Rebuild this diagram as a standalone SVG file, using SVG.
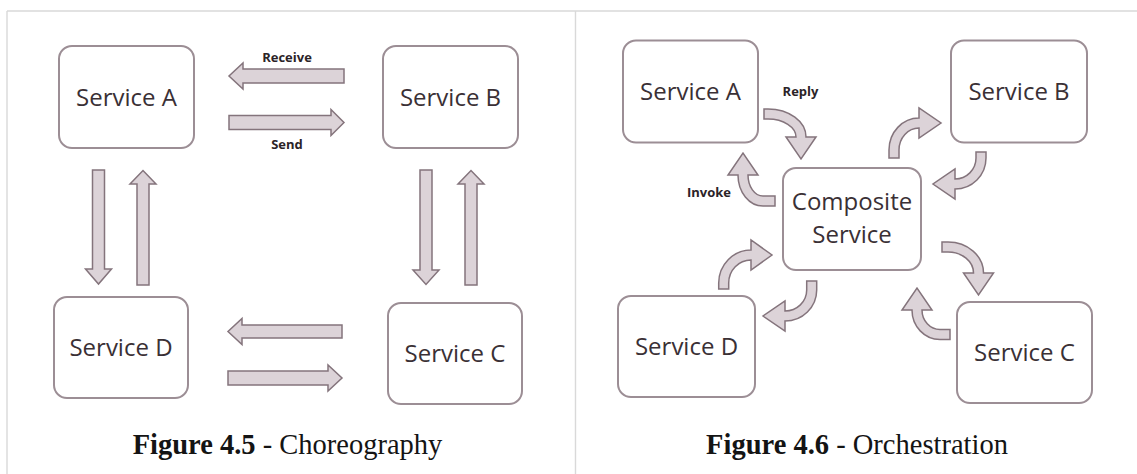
<svg xmlns="http://www.w3.org/2000/svg" width="1137" height="474" viewBox="0 0 1137 474">
  <defs>
    <style>
      .frame { stroke: #d9d9d9; stroke-width: 1.4; fill: none; }
      .box { fill: #ffffff; stroke: #9c8e95; stroke-width: 2; }
      .arrow { fill: #dcd3d8; stroke: #84747c; stroke-width: 1.5; stroke-linejoin: miter; }
      .name { font-family: "Open Sans", "Liberation Sans", sans-serif; font-size: 24px; fill: #3a3035; text-anchor: middle; }
      .lbl { font-family: "Open Sans", "Liberation Sans", sans-serif; font-size: 13px; font-weight: bold; fill: #2b2327; text-anchor: middle; }
      .cap { font-family: "Liberation Serif", "Times New Roman", serif; font-size: 28.5px; fill: #141414; text-anchor: middle; }
    </style>
  </defs>

  <rect x="0" y="0" width="1137" height="474" fill="#ffffff"/>

  <!-- panel frame -->
  <g id="frame">
    <line class="frame" x1="7" y1="11" x2="1137" y2="11"/>
    <line class="frame" x1="7" y1="11" x2="7" y2="474"/>
    <line class="frame" x1="575.5" y1="11" x2="575.5" y2="474"/>
  </g>

  <!-- Choreography: peer-to-peer message arrows -->
  <g id="choreo-connectors">
    <path class="arrow" d="M344,69 H243 V63 L229,76 L243,89 V83 H344 Z"/>
    <path class="arrow" d="M229,115.5 H331 V109.5 L344,122.5 L331,135.5 V129.5 H229 Z"/>
    <path class="arrow" d="M342,325 H242 V318.5 L228,331.5 L242,344.5 V338 H342 Z"/>
    <path class="arrow" d="M228,371 H328 V365 L342,378 L328,391 V385 H228 Z"/>
    <path class="arrow" d="M92.5,170 H104.5 V269 H111.5 L98.5,284 L85.5,269 H92.5 Z"/>
    <path class="arrow" d="M137,285 V184 H130 L143,170.5 L156,184 H149 V285 Z"/>
    <path class="arrow" d="M420,170 H432 V270 H439 L426,284.5 L413,270 H420 Z"/>
    <path class="arrow" d="M465,285 V184 H458 L471,170.5 L484,184 H477 V285 Z"/>
  </g>
  <g id="choreo-labels">
    <text class="lbl" x="287" y="62">Receive</text>
    <text class="lbl" x="287" y="149">Send</text>
  </g>

  <g id="choreo-service-a">
    <rect class="box" x="59" y="46" width="135" height="102" rx="13"/>
    <text class="name" x="126.5" y="105.5">Service A</text>
  </g>
  <g id="choreo-service-b">
    <rect class="box" x="383" y="46" width="135" height="102" rx="13"/>
    <text class="name" x="450.5" y="105.5">Service B</text>
  </g>
  <g id="choreo-service-d">
    <rect class="box" x="54" y="297" width="134" height="101" rx="13"/>
    <text class="name" x="121" y="356">Service D</text>
  </g>
  <g id="choreo-service-c">
    <rect class="box" x="388" y="303" width="134" height="101" rx="13"/>
    <text class="name" x="455" y="362">Service C</text>
  </g>

  <text class="cap" x="287.5" y="454"><tspan font-weight="bold">Figure 4.5</tspan> - Choreography</text>

  <!-- Orchestration: curved invoke/reply arrows around the composite -->
  <g id="orch-connectors">
    <path class="arrow" d="M764,109 H768 A38,28 0 0 1 806,137 H816 L801,159 L786,137 H796 A28,18 0 0 0 768,119 H764 Z"/>
    <path class="arrow" d="M775,206 H763 A25,31 0 0 1 738,175 H728 L743,153 L758,175 H748 A15,21 0 0 0 763,196 H775 Z"/>
    <path class="arrow" d="M889,158 V150 A30,32 0 0 1 919,118 V108 L941,123 L919,138 V128 A20,22 0 0 0 899,150 V158 Z"/>
    <path class="arrow" d="M986,152 V158 A31,31 0 0 1 955,189 V199 L933,184 L955,169 V179 A21,21 0 0 0 976,158 V152 Z"/>
    <path class="arrow" d="M942,242 H948 A35.5,31 0 0 1 983.5,273 H993.5 L978.5,295 L963.5,273 H973.5 A25.5,21 0 0 0 948,252 H942 Z"/>
    <path class="arrow" d="M950,339.5 H940 A28,29.5 0 0 1 912,310 H902 L917,288 L932,310 H922 A18,19.5 0 0 0 940,329.5 H950 Z"/>
    <path class="arrow" d="M718.7,289 V283 A32.3,33 0 0 1 751,250 V240 L772,255 L751,270 V260 A22.3,23 0 0 0 728.7,283 V289 Z"/>
    <path class="arrow" d="M816.7,281 V290 A31.7,31 0 0 1 785,321 V331 L763,316 L785,301 V311 A21.7,21 0 0 0 806.7,290 V281 Z"/>
  </g>
  <g id="orch-labels">
    <text class="lbl" x="800.5" y="96">Reply</text>
    <text class="lbl" x="709" y="197">Invoke</text>
  </g>

  <g id="orch-service-a">
    <rect class="box" x="623" y="40.5" width="135" height="102" rx="13"/>
    <text class="name" x="690.5" y="100">Service A</text>
  </g>
  <g id="orch-service-b">
    <rect class="box" x="951" y="40.5" width="136" height="102" rx="13"/>
    <text class="name" x="1019" y="100">Service B</text>
  </g>
  <g id="orch-composite">
    <rect class="box" x="783" y="168" width="138" height="102" rx="13"/>
    <text class="name" x="852" y="210">Composite</text>
    <text class="name" x="852" y="243">Service</text>
  </g>
  <g id="orch-service-d">
    <rect class="box" x="618" y="296" width="137" height="101" rx="13"/>
    <text class="name" x="686.5" y="355">Service D</text>
  </g>
  <g id="orch-service-c">
    <rect class="box" x="957" y="302" width="135" height="101" rx="13"/>
    <text class="name" x="1024.5" y="361">Service C</text>
  </g>

  <text class="cap" x="857" y="454"><tspan font-weight="bold">Figure 4.6</tspan> - Orchestration</text>
</svg>
